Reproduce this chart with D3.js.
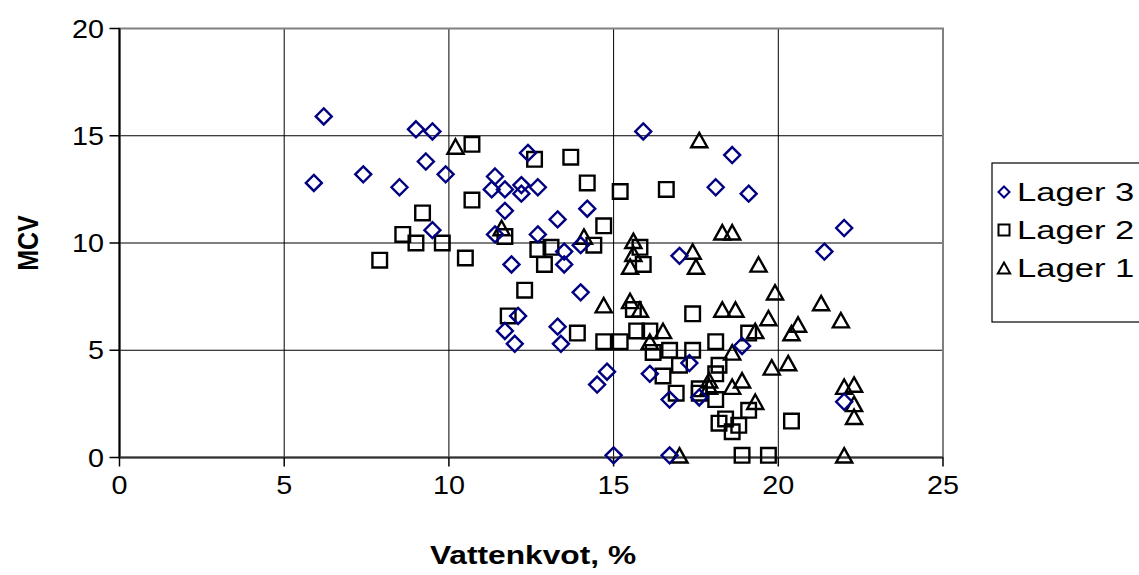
<!DOCTYPE html>
<html lang="sv">
<head>
<meta charset="utf-8">
<title>MCV mot vattenkvot</title>
<script src="https://cdn.jsdelivr.net/npm/d3@7"></script>
<style>
  body { margin: 0; background: #fff; }
  text { font-family: "Liberation Sans", Arial, sans-serif; fill: #000; }
</style>
</head>
<body>
<script>
  // Data: [vattenkvot %, MCV]
  const lager3 = [
    [6.2, 15.9], [5.9, 12.8], [7.4, 13.2], [8.5, 12.6], [9.0, 15.3], [9.5, 15.2],
    [9.3, 13.8], [9.9, 13.2], [9.5, 10.6], [12.4, 14.2], [11.4, 13.1], [11.3, 12.5],
    [11.7, 12.5], [12.2, 12.7], [12.2, 12.3], [12.7, 12.6], [15.9, 15.2], [11.7, 11.5],
    [14.2, 11.6], [13.3, 11.1], [11.4, 10.4], [12.7, 10.4], [14.0, 9.9], [13.5, 9.6],
    [13.5, 9.0], [11.9, 9.0], [17.0, 9.4], [18.6, 14.1], [18.1, 12.6], [19.1, 12.3],
    [22.0, 10.7], [21.4, 9.6], [14.0, 7.7], [12.1, 6.6], [11.7, 5.9], [12.0, 5.3],
    [13.3, 6.1], [13.4, 5.3], [14.8, 4.0], [14.5, 3.4], [15.0, 0.1], [16.7, 0.1],
    [16.1, 3.9], [16.7, 2.7], [17.3, 4.4], [17.6, 2.8], [18.9, 5.2], [22.0, 2.6]
  ];
  const lager2 = [
    [10.7, 14.6], [12.6, 13.9], [13.7, 14.0], [14.2, 12.8], [15.2, 12.4], [16.6, 12.5],
    [10.7, 12.0], [9.2, 11.4], [8.6, 10.4], [9.0, 10.0], [9.8, 10.0], [7.9, 9.2],
    [10.5, 9.3], [14.7, 10.8], [11.7, 10.3], [14.4, 9.9], [12.7, 9.7], [13.1, 9.8],
    [12.9, 9.0], [15.8, 9.8], [15.9, 9.0], [12.3, 7.8], [15.6, 6.9], [17.4, 6.7],
    [11.8, 6.6], [13.9, 5.8], [14.7, 5.4], [15.2, 5.4], [15.7, 5.9], [16.1, 5.9],
    [16.2, 4.9], [16.7, 5.0], [17.4, 5.0], [18.1, 5.4], [19.1, 5.8], [17.0, 4.3],
    [18.2, 4.3], [18.1, 3.9], [16.5, 3.8], [17.6, 3.2], [17.6, 3.0], [16.9, 3.0],
    [18.1, 2.7], [19.1, 2.2], [18.2, 1.6], [18.4, 1.8], [18.8, 1.5], [18.6, 1.2],
    [20.4, 1.7], [18.9, 0.1], [19.7, 0.1]
  ];
  const lager1 = [
    [10.2, 14.5], [17.6, 14.8], [11.6, 10.7], [14.1, 10.3], [15.6, 10.1], [15.6, 9.5],
    [15.5, 8.9], [17.4, 9.6], [17.5, 8.9], [18.3, 10.5], [18.6, 10.5], [19.4, 9.0],
    [19.9, 7.7], [21.3, 7.2], [21.9, 6.4], [14.7, 7.1], [15.5, 7.3], [15.8, 6.9],
    [18.3, 6.9], [18.7, 6.9], [19.7, 6.5], [20.6, 6.2], [20.4, 5.8], [19.3, 5.9],
    [16.5, 5.9], [16.1, 5.4], [18.6, 4.9], [19.8, 4.2], [20.3, 4.4], [17.9, 3.6],
    [17.9, 3.3], [18.9, 3.6], [18.6, 3.3], [19.3, 2.6], [22.0, 3.3], [22.3, 3.4],
    [22.3, 2.5], [22.3, 1.9], [17.0, 0.1], [22.0, 0.1]
  ];
  const seriesNames = ["Lager 3", "Lager 2", "Lager 1"];
  const xTicks = [0, 5, 10, 15, 20, 25];
  const yTicks = [0, 5, 10, 15, 20];

  const w = 1139;
  const h = 575;
  const sx = 1.15; // texten i originalet är utdragen på bredden

  const svg = d3.select("body")
    .append("svg")
    .attr("width", w)
    .attr("height", h);

  const x = d3.scaleLinear().domain([0, 25]).range([119.5, 943]);
  const y = d3.scaleLinear().domain([0, 20]).range([457.5, 28.5]);

  // rutnät
  svg.selectAll("line.vgrid")
    .data(xTicks.slice(1, -1))
    .enter().append("line")
    .attr("x1", d => x(d)).attr("x2", d => x(d))
    .attr("y1", y(20)).attr("y2", y(0))
    .attr("stroke", "#000").attr("stroke-width", 1);

  svg.selectAll("line.hgrid")
    .data(yTicks.slice(1, -1))
    .enter().append("line")
    .attr("x1", x(0)).attr("x2", x(25))
    .attr("y1", d => y(d)).attr("y2", d => y(d))
    .attr("stroke", "#000").attr("stroke-width", 1);

  // ram runt plotytan
  svg.append("rect")
    .attr("x", x(0)).attr("y", y(20))
    .attr("width", x(25) - x(0)).attr("height", y(0) - y(20))
    .attr("fill", "none").attr("stroke", "#808080").attr("stroke-width", 2);

  // axlar
  svg.append("line")
    .attr("x1", x(0)).attr("x2", x(0)).attr("y1", y(20)).attr("y2", y(0))
    .attr("stroke", "#000").attr("stroke-width", 2);
  svg.append("line")
    .attr("x1", x(0)).attr("x2", x(25)).attr("y1", y(0)).attr("y2", y(0))
    .attr("stroke", "#333").attr("stroke-width", 2);

  svg.selectAll("line.ytick")
    .data(yTicks)
    .enter().append("line")
    .attr("x1", x(0) - 10).attr("x2", x(0))
    .attr("y1", d => y(d)).attr("y2", d => y(d))
    .attr("stroke", "#000").attr("stroke-width", 1.5);

  svg.selectAll("line.xtick")
    .data(xTicks)
    .enter().append("line")
    .attr("x1", d => x(d)).attr("x2", d => x(d))
    .attr("y1", y(0)).attr("y2", y(0) + 9)
    .attr("stroke", "#000").attr("stroke-width", 1.5);

  // etiketter
  svg.selectAll("text.ylab")
    .data(yTicks)
    .enter().append("text")
    .attr("text-anchor", "end")
    .attr("font-size", 25)
    .attr("transform", d => `translate(104,${y(d) + 9}) scale(${sx},1)`)
    .text(d => d);

  svg.selectAll("text.xlab")
    .data(xTicks)
    .enter().append("text")
    .attr("text-anchor", "middle")
    .attr("font-size", 25)
    .attr("transform", d => `translate(${x(d)},494) scale(${sx},1)`)
    .text(d => d);

  svg.append("text")
    .attr("text-anchor", "middle")
    .attr("font-size", 26)
    .attr("font-weight", "bold")
    .attr("transform", `translate(533,564) scale(1.22,1)`)
    .text("Vattenkvot, %");

  svg.append("text")
    .attr("text-anchor", "middle")
    .attr("font-size", 25)
    .attr("font-weight", "bold")
    .attr("transform", `translate(38,243) scale(${sx},1) rotate(-90)`)
    .text("MCV");

  // markörer
  const shapes = {
    "Lager 3": s => `M0,${-s}L${s},0L0,${s}L${-s},0Z`,
    "Lager 2": s => `M${-s},${-s}H${s}V${s}H${-s}Z`,
    "Lager 1": s => `M0,${-s}L${s * 1.12},${s}L${-s * 1.12},${s}Z`
  };
  const colors = { "Lager 3": "#000080", "Lager 2": "#000", "Lager 1": "#000" };
  const sizes = { "Lager 3": 8, "Lager 2": 7.3, "Lager 1": 7.2 };
  const series = [
    { name: "Lager 3", data: lager3 },
    { name: "Lager 2", data: lager2 },
    { name: "Lager 1", data: lager1 }
  ];

  // Lager 1 underst, Lager 3 överst
  series.slice().reverse().forEach(s => {
    svg.append("g").selectAll("path")
      .data(s.data)
      .enter().append("path")
      .attr("d", shapes[s.name](sizes[s.name]))
      .attr("transform", d => `translate(${x(d[0])},${y(d[1])})`)
      .attr("fill", "none")
      .attr("stroke", colors[s.name])
      .attr("stroke-width", 2.4);
  });

  // legend
  const leg = svg.append("g");
  leg.append("rect")
    .attr("x", 992).attr("y", 163)
    .attr("width", 170).attr("height", 159)
    .attr("fill", "#fff").attr("stroke", "#000").attr("stroke-width", 1.2);

  const legY = d3.scalePoint().domain(seriesNames).range([192, 268]);
  seriesNames.forEach(n => {
    leg.append("path")
      .attr("d", shapes[n](5.5))
      .attr("transform", `translate(1004,${legY(n)})`)
      .attr("fill", "none")
      .attr("stroke", colors[n])
      .attr("stroke-width", 2);
    leg.append("text")
      .attr("font-size", 26)
      .attr("transform", `translate(1017,${legY(n) + 9}) scale(1.33,1)`)
      .text(n);
  });
</script>
</body>
</html>
